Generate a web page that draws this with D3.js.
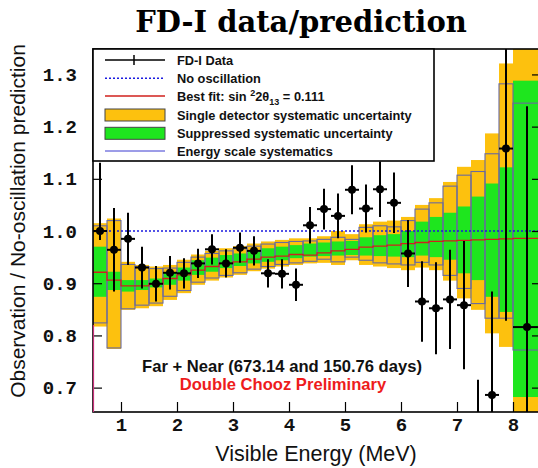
<!DOCTYPE html>
<html>
<head>
<meta charset="utf-8">
<script src="https://cdn.jsdelivr.net/npm/d3@7"></script>
<style>
	body { margin: 0; background: #fff; }
	svg { display: block; }
</style>
</head>
<body>
<div id="chart"></div>
<script>
// bin edges in MeV (last bin is wider)
var binEdges = [0.5, 0.75, 1.0, 1.25, 1.5, 1.75, 2.0, 2.25, 2.5, 2.75, 3.0, 3.25, 3.5, 3.75, 4.0, 4.25,
	4.5, 4.75, 5.0, 5.25, 5.5, 5.75, 6.0, 6.25, 6.5, 6.75, 7.0, 7.25, 7.5, 7.75, 8.0, 8.5];

// FD-I data / no-oscillation prediction
var dataRatio = [1.000, 0.964, 0.985, 0.930, 0.899, 0.920, 0.919, 0.938, 0.965, 0.938, 0.968, 0.962, 0.919, 0.918, 0.897, 1.011,
	1.042, 1.029, 1.079, 1.043, 1.080, 1.054, 0.957, 0.865, 0.852, 0.869, 0.858, 0.600, 0.686, 1.158, 0.816];
var dataErrUp = [0.131, 0.080, 0.050, 0.040, 0.034, 0.032, 0.029, 0.028, 0.029, 0.027, 0.029, 0.028, 0.027, 0.028, 0.031, 0.035,
	0.039, 0.043, 0.047, 0.046, 0.053, 0.058, 0.064, 0.077, 0.088, 0.095, 0.123, 0.115, 0.198, 0.330, 0.423];
var dataErrDown = [0.017, 0.080, 0.050, 0.040, 0.034, 0.032, 0.029, 0.028, 0.029, 0.027, 0.029, 0.028, 0.027, 0.028, 0.031, 0.035,
	0.039, 0.043, 0.047, 0.046, 0.053, 0.058, 0.064, 0.077, 0.088, 0.095, 0.123, 0.115, 0.198, 0.330, 0.423];

// best fit sin^2 2theta13 = 0.111
var bestFit = [0.921, 0.906, 0.895, 0.895, 0.899, 0.909, 0.916, 0.925, 0.932, 0.938, 0.941, 0.946, 0.950, 0.952, 0.955, 0.954,
	0.958, 0.962, 0.965, 0.969, 0.971, 0.973, 0.976, 0.978, 0.980, 0.981, 0.982, 0.983, 0.984, 0.985, 0.986];

// single detector systematic uncertainty (orange)
var singleLo = [0.817, 0.774, 0.849, 0.852, 0.856, 0.868, 0.881, 0.897, 0.905, 0.911, 0.916, 0.923, 0.928, 0.932, 0.935, 0.938,
	0.939, 0.935, 0.944, 0.935, 0.932, 0.929, 0.925, 0.930, 0.925, 0.905, 0.871, 0.849, 0.804, 0.778, 0.600];
var singleHi = [1.015, 1.024, 0.941, 0.935, 0.932, 0.935, 0.945, 0.955, 0.962, 0.967, 0.971, 0.976, 0.980, 0.983, 0.986, 0.986,
	0.990, 1.000, 0.994, 1.013, 1.018, 1.020, 1.027, 1.050, 1.063, 1.094, 1.123, 1.136, 1.187, 1.321, 1.400];

// suppressed systematic uncertainty (green)
var suppLo = [0.874, 0.887, 0.884, 0.887, 0.892, 0.897, 0.905, 0.916, 0.922, 0.929, 0.933, 0.938, 0.941, 0.944, 0.948, 0.951,
	0.952, 0.953, 0.954, 0.953, 0.952, 0.951, 0.950, 0.953, 0.950, 0.945, 0.919, 0.906, 0.874, 0.845, 0.682];
var suppHi = [0.970, 0.922, 0.906, 0.906, 0.909, 0.920, 0.930, 0.944, 0.949, 0.954, 0.957, 0.962, 0.967, 0.970, 0.973, 0.976,
	0.978, 0.980, 0.981, 0.988, 0.992, 0.994, 1.000, 1.018, 1.027, 1.035, 1.047, 1.066, 1.091, 1.122, 1.288];

// energy scale systematics (boxes)
var escaleLo = [0.824, 0.776, 0.851, 0.858, 0.862, 0.875, 0.886, 0.902, 0.910, 0.915, 0.920, 0.927, 0.932, 0.936, 0.939, 0.942,
	0.946, 0.941, 0.950, 0.944, 0.939, 0.937, 0.935, 0.940, 0.935, 0.915, 0.890, 0.861, 0.833, 0.833, 0.772];
var escaleHi = [1.010, 1.020, 0.936, 0.932, 0.928, 0.929, 0.940, 0.950, 0.957, 0.962, 0.966, 0.971, 0.975, 0.978, 0.980, 0.981,
	0.984, 0.988, 0.984, 1.007, 1.010, 1.008, 1.020, 1.042, 1.054, 1.086, 1.107, 1.114, 1.148, 1.282, 1.245];

var xTicks = [1, 2, 3, 4, 5, 6, 7, 8];
var yTicks = [0.7, 0.8, 0.9, 1.0, 1.1, 1.2, 1.3];
var yTickLabels = ["0.7", "0.8", "0.9", "1.0", "1.1", "1.2", "1.3"];

function ratioChart(selector) {
	//size of area
	var width = 538;
	var height = 468;
	var left = 93, right = 541, top = 49, bottom = 412;

	var sans = "'Liberation Sans', Arial, Helvetica, sans-serif";
	var mono = "'Liberation Mono', 'Courier New', monospace";

	var svg = d3.select(selector)
		.append('svg')
		.attr('width', width)
		.attr('height', height);

	svg.append('rect').attr('width', width).attr('height', height).attr('fill', '#fff');

	var x = d3.scaleLinear().domain([0.5, 8.5]).range([left, right]);
	var y = d3.scaleLinear().domain([0.6533, 1.3487]).range([bottom, top]);

	var bins = d3.range(binEdges.length - 1).map(function(i) {
		return {
			x0: binEdges[i], x1: binEdges[i + 1],
			v: dataRatio[i], up: dataErrUp[i], dn: dataErrDown[i],
			fit: bestFit[i],
			sLo: singleLo[i], sHi: singleHi[i],
			gLo: suppLo[i], gHi: suppHi[i],
			eLo: escaleLo[i], eHi: escaleHi[i]
		};
	});

	svg.append('clipPath').attr('id', 'plotclip')
		.append('rect')
		.attr('x', left).attr('y', top)
		.attr('width', right - left).attr('height', bottom - top);

	var plot = svg.append('g').attr('clip-path', 'url(#plotclip)');

	//orange band
	plot.selectAll('rect.single')
		.data(bins).enter().append('rect')
		.attr('class', 'single')
		.attr('x', function(d) { return x(d.x0); })
		.attr('width', function(d) { return x(d.x1) - x(d.x0); })
		.attr('y', function(d) { return y(d.sHi); })
		.attr('height', function(d) { return y(d.sLo) - y(d.sHi); })
		.attr('fill', '#fdc10e');

	//green band
	plot.selectAll('rect.supp')
		.data(bins).enter().append('rect')
		.attr('class', 'supp')
		.attr('x', function(d) { return x(d.x0); })
		.attr('width', function(d) { return x(d.x1) - x(d.x0); })
		.attr('y', function(d) { return y(d.gHi); })
		.attr('height', function(d) { return y(d.gLo) - y(d.gHi); })
		.attr('fill', '#1ee61e');

	//energy scale boxes
	plot.selectAll('rect.escale')
		.data(bins).enter().append('rect')
		.attr('class', 'escale')
		.attr('x', function(d) { return x(d.x0); })
		.attr('width', function(d) { return x(d.x1) - x(d.x0); })
		.attr('y', function(d) { return y(d.eHi); })
		.attr('height', function(d) { return y(d.eLo) - y(d.eHi); })
		.attr('fill', 'none')
		.attr('stroke', '#6a6a9e')
		.attr('stroke-width', 1.1);

	//best fit step line
	var fitPts = bins.map(function(d) { return [d.x0, d.fit]; });
	fitPts.push([bins[bins.length - 1].x1, bins[bins.length - 1].fit]);
	plot.append('path')
		.datum(fitPts)
		.attr('d', d3.line()
			.curve(d3.curveStepAfter)
			.x(function(d) { return x(d[0]); })
			.y(function(d) { return y(d[1]); }))
		.attr('fill', 'none')
		.attr('stroke', '#d0201c')
		.attr('stroke-width', 1.3);

	//no oscillation
	plot.append('line')
		.attr('x1', left).attr('x2', right)
		.attr('y1', y(1.0)).attr('y2', y(1.0))
		.attr('stroke', '#1a1ae0')
		.attr('stroke-width', 1.6)
		.attr('stroke-dasharray', '2,2');

	//data points
	var pts = plot.selectAll('g.pt')
		.data(bins).enter().append('g')
		.attr('class', 'pt');

	pts.append('line')
		.attr('x1', function(d) { return x((d.x0 + d.x1) / 2); })
		.attr('x2', function(d) { return x((d.x0 + d.x1) / 2); })
		.attr('y1', function(d) { return y(d.v + d.up); })
		.attr('y2', function(d) { return y(d.v - d.dn); })
		.attr('stroke', '#000')
		.attr('stroke-width', 2);

	pts.append('line')
		.attr('x1', function(d) { return x(d.x0); })
		.attr('x2', function(d) { return x(d.x1); })
		.attr('y1', function(d) { return y(d.v); })
		.attr('y2', function(d) { return y(d.v); })
		.attr('stroke', '#000')
		.attr('stroke-width', 2);

	pts.append('circle')
		.attr('cx', function(d) { return x((d.x0 + d.x1) / 2); })
		.attr('cy', function(d) { return y(d.v); })
		.attr('r', 4)
		.attr('fill', '#000');

	//axes
	var minor = d3.range(0.66, 1.345, 0.02).filter(function(v) {
		return Math.abs(v * 10 - Math.round(v * 10)) > 0.01;
	});

	var gLeft = svg.append('g').attr('transform', 'translate(' + left + ',0)');
	gLeft.call(d3.axisLeft(y).tickValues(minor).tickSize(-5).tickFormat(''));
	gLeft.call(d3.axisLeft(y).tickValues(yTicks).tickSize(-9).tickPadding(16)
		.tickFormat(function(d, i) { return yTickLabels[i]; }));

	var gRight = svg.append('g').attr('transform', 'translate(' + right + ',0)');
	gRight.call(d3.axisRight(y).tickValues(minor).tickSize(-5).tickFormat(''));
	gRight.call(d3.axisRight(y).tickValues(yTicks).tickSize(-9).tickFormat(''));

	var gBottom = svg.append('g').attr('transform', 'translate(0,' + bottom + ')');
	gBottom.call(d3.axisBottom(x).tickValues(xTicks).tickSize(-10).tickPadding(6)
		.tickFormat(d3.format('d')));

	svg.selectAll('.domain').remove();
	svg.selectAll('.tick line').attr('stroke', '#000').attr('stroke-width', 1.2);
	svg.selectAll('.tick text')
		.attr('font-family', mono)
		.attr('font-weight', 'bold')
		.attr('font-size', 19)
		.attr('fill', '#111');

	//frame
	svg.append('rect')
		.attr('x', left).attr('y', top)
		.attr('width', right - left).attr('height', bottom - top)
		.attr('fill', 'none')
		.attr('stroke', '#000')
		.attr('stroke-width', 1.6);

	svg.append('line')
		.attr('x1', left + 0.5).attr('x2', left + 0.5)
		.attr('y1', y(0.82)).attr('y2', bottom)
		.attr('stroke', '#c8307a')
		.attr('stroke-width', 1.2);

	//legend
	var lg = svg.append('g');
	lg.append('rect')
		.attr('x', left).attr('y', top)
		.attr('width', 341).attr('height', 112)
		.attr('fill', '#fff')
		.attr('stroke', '#000')
		.attr('stroke-width', 1.6);

	var rows = [60, 78.3, 96, 115, 133.3, 151];
	var sx0 = 105, sx1 = 165, tx = 177;

	lg.append('line').attr('x1', sx0).attr('x2', sx1).attr('y1', rows[0]).attr('y2', rows[0])
		.attr('stroke', '#000').attr('stroke-width', 1.5);
	lg.append('line').attr('x1', 134).attr('x2', 134).attr('y1', rows[0] - 5).attr('y2', rows[0] + 5)
		.attr('stroke', '#000').attr('stroke-width', 1.5);
	lg.append('line').attr('x1', sx0).attr('x2', sx1).attr('y1', rows[1]).attr('y2', rows[1])
		.attr('stroke', '#1a1ae0').attr('stroke-width', 1.6).attr('stroke-dasharray', '2,2');
	lg.append('line').attr('x1', sx0).attr('x2', sx1).attr('y1', rows[2]).attr('y2', rows[2])
		.attr('stroke', '#d0201c').attr('stroke-width', 1.5);
	lg.append('rect').attr('x', sx0).attr('y', rows[3] - 6).attr('width', sx1 - sx0).attr('height', 12)
		.attr('fill', '#fdc10e').attr('stroke', '#444').attr('stroke-width', 1);
	lg.append('rect').attr('x', sx0).attr('y', rows[4] - 6).attr('width', sx1 - sx0).attr('height', 12)
		.attr('fill', '#1ee61e').attr('stroke', '#444').attr('stroke-width', 1);
	lg.append('line').attr('x1', sx0).attr('x2', sx1).attr('y1', rows[5]).attr('y2', rows[5])
		.attr('stroke', '#3a3ad0').attr('stroke-width', 1);

	var legendText = ["FD-I Data", "No oscillation", null, "Single detector systematic uncertainty",
		"Suppressed systematic uncertainty", "Energy scale systematics"];

	legendText.forEach(function(t, i) {
		var txt = lg.append('text')
			.attr('x', tx).attr('y', rows[i] + 4.6)
			.attr('font-family', sans)
			.attr('font-weight', 'bold')
			.attr('font-size', 12.8)
			.attr('fill', '#111');
		if (t !== null) {
			txt.text(t);
		} else {
			txt.append('tspan').text('Best fit: sin ');
			txt.append('tspan').attr('dy', -5).attr('font-size', 9).text('2');
			txt.append('tspan').attr('dy', 5).text('2\u03B8');
			txt.append('tspan').attr('dy', 4).attr('font-size', 9).text('13');
			txt.append('tspan').attr('dy', -4).text(' = 0.111');
		}
	});

	//annotations
	svg.append('text')
		.attr('x', 282).attr('y', 372)
		.attr('text-anchor', 'middle')
		.attr('font-family', sans)
		.attr('font-weight', 'bold')
		.attr('font-size', 16.6)
		.attr('fill', '#111')
		.text('Far + Near (673.14 and 150.76 days)');

	svg.append('text')
		.attr('x', 283).attr('y', 390)
		.attr('text-anchor', 'middle')
		.attr('font-family', sans)
		.attr('font-weight', 'bold')
		.attr('font-size', 16.6)
		.attr('fill', '#ee1c1c')
		.text('Double Chooz Preliminary');

	//titles
	svg.append('text')
		.attr('x', 301).attr('y', 31.5)
		.attr('text-anchor', 'middle')
		.attr('font-family', "'DejaVu Serif', serif")
		.attr('font-weight', 'bold')
		.attr('font-size', 29)
		.attr('fill', '#000')
		.text('FD-I data/prediction');

	svg.append('text')
		.attr('x', 316).attr('y', 461)
		.attr('text-anchor', 'middle')
		.attr('font-family', sans)
		.attr('font-size', 21.5)
		.attr('fill', '#111')
		.text('Visible Energy (MeV)');

	svg.append('text')
		.attr('transform', 'translate(25,221) rotate(-90)')
		.attr('text-anchor', 'middle')
		.attr('font-family', sans)
		.attr('font-size', 21)
		.attr('fill', '#111')
		.text('Observation / No-oscillation prediction');
}

ratioChart('#chart');
</script>
</body>
</html>
